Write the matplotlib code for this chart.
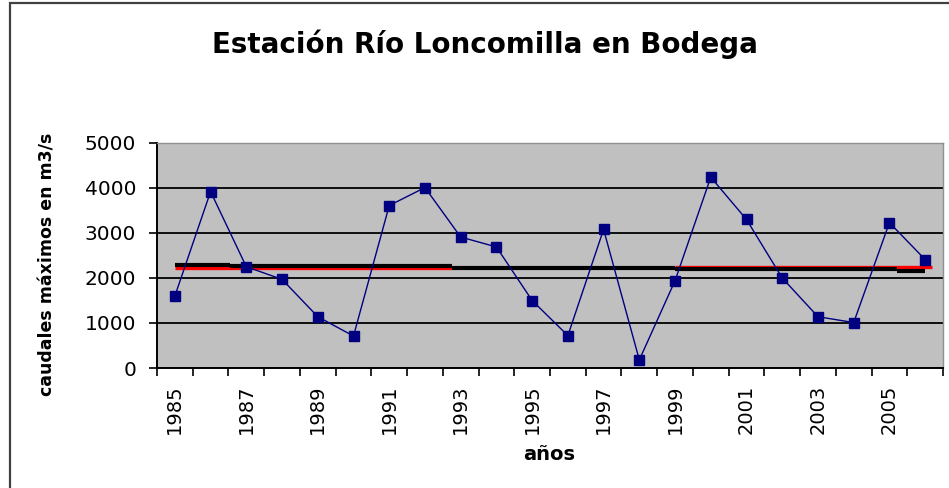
import numpy as np
import matplotlib.pyplot as plt
from matplotlib.patches import Rectangle

# Caudales máximos anuales (m3/s)
years = np.arange(1985, 2007)
caudales = [1600, 3920, 2250, 1970, 1140, 710, 3610, 4010, 2910, 2690, 1500,
            720, 3080, 180, 1940, 4240, 3300, 2000, 1140, 1010, 3230, 2410]

# tramos horizontales (inicio, fin, nivel)
red_start = [1985, 1999]
red_end = [1992.75, 2006.2]
red_level = [2225, 2255]

black_start = [1985, 1986.55, 1992.75, 1999, 2005.2]
black_end = [1986.55, 1992.75, 1999, 2005.2, 2006]
black_level = [2300, 2262, 2228, 2200, 2150]

tick_years = list(range(1985, 2007, 2))

W, H = 949, 488
fig = plt.figure(figsize=(W / 100, H / 100), dpi=100)
fig.patch.set_facecolor('white')

# chart frame
fig.add_artist(Rectangle((10 / W, -0.05), 1.1, 1 - 3 / H + 0.05, transform=fig.transFigure,
                         fill=False, edgecolor='#404040', linewidth=1.6))

ax = fig.add_axes([157 / W, 1 - 368 / H, (943 - 157) / W, (368 - 143) / H])
ax.set_facecolor('#C0C0C0')

x = years - 1985
ax.plot(x, caudales, color='#000080', linewidth=1.0, marker='s', markersize=7.5,
        markerfacecolor='#000080', markeredgecolor='#000080', zorder=4)

for s, e, v in zip(red_start, red_end, red_level):
    ax.plot([s - 1985, e - 1985], [v, v], color='#FF0000', linewidth=2.4,
            solid_capstyle='butt', zorder=2)
for s, e, v in zip(black_start, black_end, black_level):
    ax.plot([s - 1985, e - 1985], [v, v], color='black', linewidth=3.0,
            solid_capstyle='butt', zorder=3)

ax.set_xlim(-0.5, len(years) - 0.5)
ax.set_ylim(0, 5000)
ax.set_yticks(range(0, 5001, 1000))
ax.grid(axis='y', color='black', linewidth=1.3)
ax.set_axisbelow(True)

ax.set_xticks(np.arange(-0.5, len(years), 1))
ax.set_xticklabels([])
ax.set_xticks([y - 1985 for y in tick_years], minor=True)
ax.set_xticklabels([str(y) for y in tick_years], minor=True, rotation=90,
                   fontsize=14)
ax.tick_params(axis='x', which='major', length=6, width=1.2, direction='out')
ax.tick_params(axis='x', which='minor', length=0, pad=12)
ax.tick_params(axis='y', length=6, width=1.2, labelsize=14.5, pad=9)

for side in ['top', 'right']:
    ax.spines[side].set_color('#909090')
    ax.spines[side].set_linewidth(1.0)
for side in ['left', 'bottom']:
    ax.spines[side].set_color('black')
    ax.spines[side].set_linewidth(1.4)

fig.text(485 / W, 1 - 44 / H, 'Estación Río Loncomilla en Bodega', ha='center',
         va='center', fontsize=20, fontweight='bold')
fig.text(48 / W, 1 - 264 / H, 'caudales máximos en m3/s', ha='center', va='center',
         rotation=90, fontsize=12.5, fontweight='bold')
fig.text(549 / W, 1 - 455 / H, 'años', ha='center', va='center', fontsize=14,
         fontweight='bold')

fig.savefig('out.png', dpi=100)
